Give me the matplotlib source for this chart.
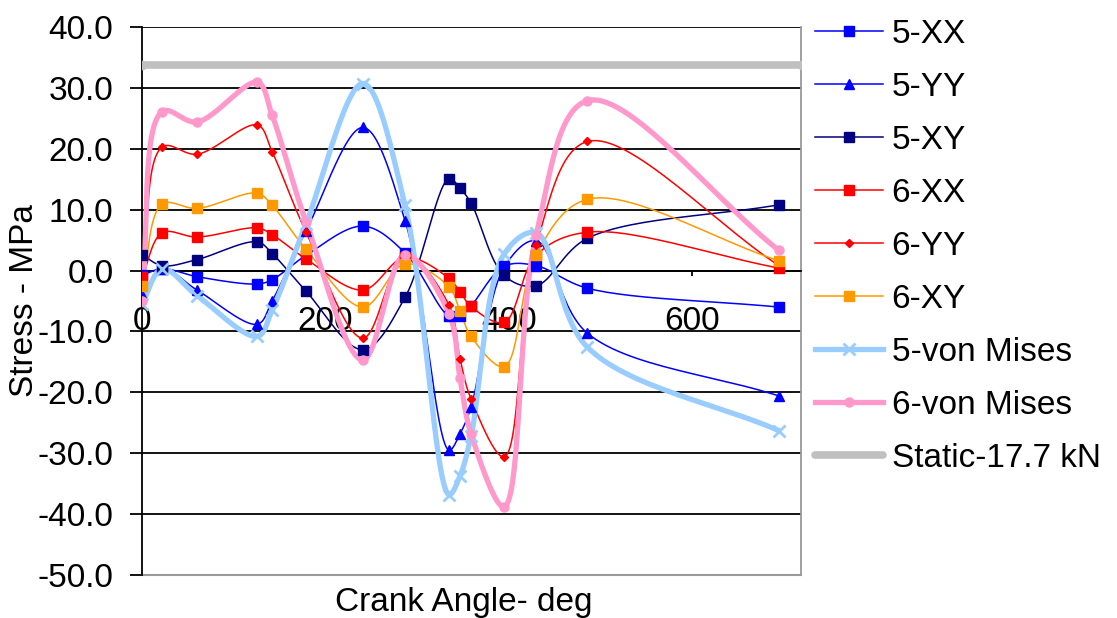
import numpy as np
import matplotlib
matplotlib.use("Agg")
import matplotlib.pyplot as plt

plt.rcParams['font.family'] = ['Liberation Sans', 'DejaVu Sans']

# crank angle (deg)
angle = [0, 22, 60, 126, 142, 179, 241, 287, 335, 347, 359, 395, 430, 486, 695]

s5_xx = [-0.8, 0.3, -1.0, -2.2, -1.5, 2.5, 7.3, 2.9, -7.5, -7.4, -5.8, 0.7, 0.8, -2.9, -6.0]
s5_yy = [-4.0, 0.3, -3.2, -8.8, -5.0, 6.5, 23.5, 8.2, -29.5, -26.8, -22.4, 0.5, 4.9, -10.3, -20.6]
s5_xy = [2.6, 0.8, 1.8, 4.7, 2.8, -3.4, -13.0, -4.4, 15.1, 13.5, 11.1, -0.8, -2.5, 5.3, 10.8]
s6_xx = [-1.1, 6.2, 5.5, 7.0, 5.9, 1.9, -3.2, 2.2, -1.3, -3.5, -5.9, -8.5, 2.5, 6.3, 0.4]
s6_yy = [-4.9, 20.3, 19.1, 23.9, 19.5, 6.3, -11.1, 2.6, -5.7, -14.5, -21.1, -30.6, 4.2, 21.2, 0.8]
s6_xy = [-2.5, 10.9, 10.2, 12.7, 10.7, 3.5, -6.0, 1.1, -2.7, -6.7, -10.8, -15.8, 2.6, 11.7, 1.6]
s5_vm = [-5.5, 0.3, -4.1, -10.8, -6.5, 7.7, 30.7, 10.7, -36.8, -33.7, -27.2, 2.7, 6.2, -12.6, -26.3]
s6_vm = [-5.0, 26.1, 24.4, 30.9, 25.5, 8.0, -14.7, 2.6, -7.1, -17.7, -26.8, -38.8, 5.8, 27.9, 3.3]

static_x = [0, 720]
static_y = [33.8, 33.8]

FS = 24

fig = plt.figure(figsize=(11.17, 6.18), dpi=100)
ax = fig.add_axes([142/1117, 1 - 575/618, (801-142)/1117, (575-27)/618])
ax.set_xlim(0, 719)
ax.set_ylim(-50, 40)


def smooth(x, y, n=30, alpha=0.5):
    # smoothed line like excel, done in screen space (centripetal catmull-rom)
    p = ax.transData.transform(np.column_stack([x, y]).astype(float))
    p = np.vstack([2*p[0] - p[1], p, 2*p[-1] - p[-2]])
    out = []
    for i in range(1, len(p) - 2):
        P0, P1, P2, P3 = p[i-1], p[i], p[i+1], p[i+2]
        t0 = 0.0
        t1 = t0 + max(np.linalg.norm(P1 - P0), 1e-6) ** alpha
        t2 = t1 + max(np.linalg.norm(P2 - P1), 1e-6) ** alpha
        t3 = t2 + max(np.linalg.norm(P3 - P2), 1e-6) ** alpha
        t = np.linspace(t1, t2, n)[:, None]
        A1 = (t1 - t)/(t1 - t0)*P0 + (t - t0)/(t1 - t0)*P1
        A2 = (t2 - t)/(t2 - t1)*P1 + (t - t1)/(t2 - t1)*P2
        A3 = (t3 - t)/(t3 - t2)*P2 + (t - t2)/(t3 - t2)*P3
        B1 = (t2 - t)/(t2 - t0)*A1 + (t - t0)/(t2 - t0)*A2
        B2 = (t3 - t)/(t3 - t1)*A2 + (t - t1)/(t3 - t1)*A3
        C = (t2 - t)/(t2 - t1)*B1 + (t - t1)/(t2 - t1)*B2
        out.append(C)
    s = ax.transData.inverted().transform(np.vstack(out))
    return s[:, 0], s[:, 1]


series = [
    ("5-XX", s5_xx, '#0000FF', 's', 7, 1.1),
    ("5-YY", s5_yy, '#0000FF', '^', 7, 1.1),
    ("5-XY", s5_xy, '#000080', 's', 7, 1.1),
    ("6-XX", s6_xx, '#FF0000', 's', 7, 1.1),
    ("6-YY", s6_yy, '#FF0000', 'D', 4.5, 1.1),
    ("6-XY", s6_xy, '#FF9900', 's', 7, 1.1),
    ("5-von Mises", s5_vm, '#99CCFF', 'x', 8, 3.8),
    ("6-von Mises", s6_vm, '#FF99CC', 'o', 6.5, 3.8),
]

handles = []
for name, vals, col, mk, ms, lw in series:
    sx, sy = smooth(angle, vals)
    ax.plot(sx, sy, color=col, lw=lw, zorder=3)
    ax.plot(angle, vals, ls='none', marker=mk, color=col, ms=ms,
            mew=2 if mk == 'x' else 1, zorder=4)
    h, = ax.plot([], [], color=col, lw=lw, marker=mk, ms=ms,
                 mew=2 if mk == 'x' else 1)
    handles.append(h)

ax.plot(static_x, static_y, color='#C0C0C0', lw=5.5, marker='o', ms=6,
        solid_capstyle='round', zorder=3)
h, = ax.plot([], [], color='#C0C0C0', lw=5.5, solid_capstyle='round')
handles.append(h)

ax.set_xticks([0, 200, 400, 600])
ax.set_yticks(np.arange(-50, 41, 10))
ax.set_yticklabels(["%.1f" % v for v in np.arange(-50, 41, 10)])
ax.yaxis.grid(True, color='black', lw=1.3, zorder=1)
ax.set_axisbelow(True)

ax.spines['bottom'].set_position(('data', 0))
ax.spines['bottom'].set_color('black')
ax.spines['bottom'].set_linewidth(1.3)
ax.spines['left'].set_linewidth(1.3)
ax.spines['top'].set_visible(False)
ax.spines['right'].set_color('#999999')
ax.spines['right'].set_linewidth(1.3)
ax.axhline(-50, color='#999999', lw=1.5, clip_on=False, zorder=2)

ax.tick_params(axis='x', direction='out', length=3.6, width=1.3, pad=22, labelsize=FS)
ax.tick_params(axis='y', direction='out', length=8.6, width=1.3, pad=12, labelsize=FS)

fig.text(25/1117, 1 - 301/618, "Stress - MPa", fontsize=FS, rotation=90,
         ha='center', va='center')
fig.text(464/1117, 1 - 602/618, "Crank Angle- deg", fontsize=FS,
         ha='center', va='center')

labels = [s[0] for s in series] + ["Static-17.7 kN"]
ax.legend(handles, labels, loc='upper left', bbox_to_anchor=(815/1117, 1 - 19/618),
          bbox_transform=fig.transFigure, frameon=False, fontsize=FS,
          handlelength=2.05, handletextpad=0.25, labelspacing=0.66,
          borderpad=0, borderaxespad=0)

fig.savefig("out.png", dpi=100)
